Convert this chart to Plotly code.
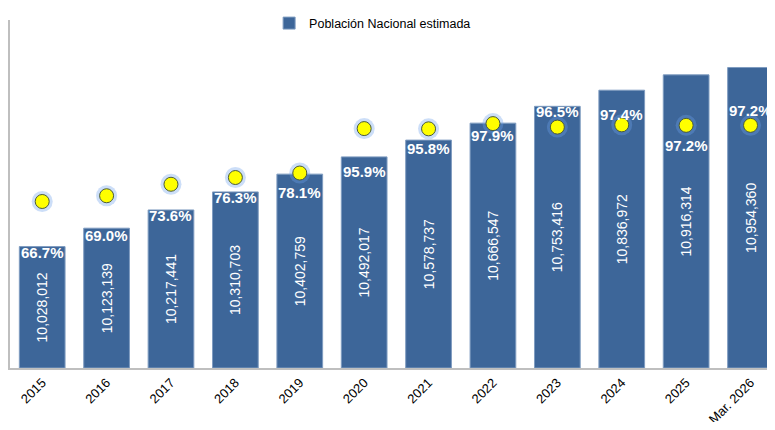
import plotly.graph_objects as go

categories = ["2015", "2016", "2017", "2018", "2019", "2020", "2021", "2022",
              "2023", "2024", "2025", "Mar. 2026"]
poblacion = [10028012, 10123139, 10217441, 10310703, 10402759, 10492017,
             10578737, 10666547, 10753416, 10836972, 10916314, 10954360]
porcentaje = [66.7, 69.0, 73.6, 76.3, 78.1, 95.9, 95.8, 97.9, 96.5, 97.4, 97.2, 97.2]

# label vertical offsets (pixels below bar top) - styling only
pct_label_offsets = [6, 7, 6, 6, 18, 15, 8, 12, 5, 24, 71, 43]

FONT = "Liberation Sans, Arial, sans-serif"
BAR_COLOR = "#3D6699"
AXIS_MIN = 9400000
AXIS_MAX = 11200000

fig = go.Figure()

fig.add_trace(go.Bar(
    x=categories, y=[v - AXIS_MIN for v in poblacion], base=AXIS_MIN,
    name="Población Nacional estimada",
    marker=dict(color=BAR_COLOR, line=dict(color="#7F9CC0", width=1)),
    text=[f"{v:,}" for v in poblacion],
    textposition="inside", insidetextanchor="middle", textangle=-90,
    textfont=dict(color="white", size=14, family=FONT),
    constraintext="none",
    showlegend=True,
    hoverinfo="skip",
))

# glow behind dots
fig.add_trace(go.Scatter(
    x=categories, y=porcentaje, yaxis="y2", mode="markers",
    marker=dict(size=21, color="rgba(110,160,235,0.35)", line=dict(width=0)),
    showlegend=False, hoverinfo="skip",
))
fig.add_trace(go.Scatter(
    x=categories, y=porcentaje, yaxis="y2", mode="markers",
    marker=dict(size=14, color="#FFFF00", line=dict(color="#4A5A3A", width=1)),
    showlegend=False, hoverinfo="skip",
))

for i, (v, p, off) in enumerate(zip(poblacion, porcentaje, pct_label_offsets)):
    fig.add_annotation(
        x=i, y=v, xref="x", yref="y", text=f"<b>{p:.1f}%</b>",
        showarrow=False, yshift=-off, yanchor="middle",
        font=dict(color="white", size=15, family=FONT),
    )

fig.update_layout(
    width=767, height=414,
    margin=dict(l=2, r=0, t=5, b=54),
    paper_bgcolor="white", plot_bgcolor="white",
    bargap=0.29,
    font=dict(family=FONT, color="black"),
    legend=dict(orientation="h", x=0.474, xanchor="center", y=0.99, yanchor="middle",
                font=dict(size=12.5, family=FONT), bgcolor="rgba(0,0,0,0)"),
    xaxis=dict(type="category", range=[-0.5, 11.38], tickangle=-45, showline=True,
               linecolor="#BFBFBF", linewidth=2, ticks="", showgrid=False,
               automargin=False,
               tickfont=dict(size=13, family=FONT, color="black")),
    yaxis=dict(range=[AXIS_MIN, AXIS_MAX], showline=True, linecolor="#BFBFBF",
               linewidth=2, showticklabels=False, ticks="", showgrid=False,
               zeroline=False, automargin=False),
    yaxis2=dict(range=[0, 139.4], overlaying="y", side="right", visible=False,
                showgrid=False, automargin=False),
)

fig.write_html("out.html")
